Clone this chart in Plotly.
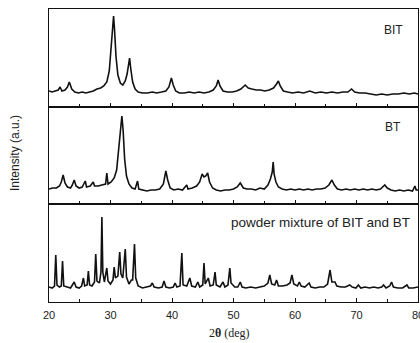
import plotly.graph_objects as go
from plotly.subplots import make_subplots

# ---- data (2theta in deg, intensity in arbitrary units) ----
bit_2theta = [20.0, 20.5, 21.0, 21.5, 21.8, 22.1, 22.6, 23.0, 23.3, 23.7, 24.2, 24.8, 25.4, 26.0, 26.6, 27.2,
              27.8, 28.4, 28.9, 29.4, 29.8, 30.1, 30.35, 30.5, 30.65, 30.9, 31.2, 31.6, 32.0, 32.4, 32.7, 32.95,
              33.1, 33.3, 33.6, 34.0, 34.5, 35.2, 36.0, 36.8, 37.5, 38.3, 39.0, 39.5, 39.9, 40.2, 40.6, 41.2,
              42.0, 42.8, 43.6, 44.4, 45.2, 46.0, 46.7, 47.2, 47.5, 47.8, 48.3, 49.0, 49.8, 50.5, 51.2, 51.9,
              52.4, 53.0, 53.7, 54.4, 55.1, 55.8, 56.5, 57.0, 57.3, 57.6, 58.1, 58.8, 59.6, 60.5, 61.4, 62.4,
              63.3, 64.2, 65.1, 66.0, 66.9, 67.8, 68.6, 69.2, 69.7, 70.5, 71.4, 72.3, 73.2, 74.1, 75.0, 75.9,
              76.8, 77.7, 78.6, 79.4, 80.0]
bit_int = [16, 15, 16, 17, 20, 16, 17, 20, 25, 18, 15, 14, 15, 14, 15, 16,
           18, 19, 21, 25, 36, 58, 80, 91, 78, 50, 32, 24, 22, 26, 33, 44,
           49, 38, 25, 18, 15, 14, 14, 15, 14, 15, 16, 20, 29, 22, 16, 14,
           14, 15, 14, 15, 14, 15, 17, 21, 27, 21, 16, 15, 15, 16, 18, 22,
           19, 18, 17, 17, 16, 17, 19, 23, 26, 21, 16, 15, 14, 15, 14, 16,
           14, 15, 14, 15, 14, 15, 15, 18, 15, 14, 14, 13, 12, 13, 12, 13,
           13, 14, 13, 14, 13]

bt_2theta = [20.0, 20.6, 21.2, 21.7, 22.0, 22.3, 22.6, 23.0, 23.5, 23.8, 24.1, 24.4, 24.9, 25.4, 25.9, 26.1,
             26.7, 27.2, 27.4, 28.0, 28.6, 29.2, 29.4, 29.6, 30.1, 30.6, 31.0, 31.3, 31.6, 31.85, 32.05, 32.3,
             32.6, 33.0, 33.5, 34.0, 34.4, 34.6, 35.2, 35.9, 36.6, 37.3, 38.0, 38.6, 39.0, 39.3, 39.7, 40.3,
             41.0, 41.7, 42.4, 42.6, 43.3, 44.0, 44.5, 44.9, 45.2, 45.5, 45.8, 46.1, 46.6, 47.2, 47.9, 48.6,
             49.3, 50.0, 50.6, 51.1, 51.6, 52.2, 52.9, 53.6, 54.3, 55.0, 55.6, 56.0, 56.3, 56.45, 56.6, 56.9,
             57.3, 57.9, 58.6, 59.3, 60.0, 60.7, 61.4, 62.1, 62.8, 63.5, 64.2, 64.9, 65.5, 66.0, 66.4, 66.9,
             67.6, 68.3, 69.0, 69.7, 70.4, 71.1, 71.8, 72.5, 73.2, 73.9, 74.6, 75.0, 75.6, 76.3, 77.0, 77.7,
             78.4, 79.1, 79.5, 79.7, 80.0]
bt_int = [15, 16, 16, 18, 22, 29, 21, 17, 16, 19, 24, 18, 16, 17, 23, 17,
          18, 22, 18, 18, 19, 20, 31, 20, 22, 26, 34, 50, 72, 88, 74, 45,
          28, 20, 16, 15, 23, 15, 14, 13, 14, 14, 15, 20, 33, 24, 16, 14,
          15, 14, 19, 15, 16, 18, 22, 30, 27, 28, 31, 22, 16, 14, 13, 14,
          14, 15, 17, 21, 16, 15, 15, 14, 16, 15, 19, 25, 32, 42, 30, 22,
          17, 15, 14, 15, 14, 15, 14, 15, 14, 15, 15, 16, 19, 24, 19, 15,
          14, 15, 14, 15, 14, 15, 14, 15, 14, 15, 19, 16, 14, 13, 14, 13,
          14, 13, 18, 14, 14]

mix_2theta = [20.0, 20.5, 20.9, 21.1, 21.3, 21.7, 22.0, 22.2, 22.4, 22.9, 23.5, 24.1, 24.4, 24.9, 25.3, 25.6,
              25.8, 26.2, 26.4, 26.6, 27.0, 27.4, 27.6, 27.8, 28.2, 28.45, 28.6, 28.75, 29.0, 29.4, 29.6, 30.0,
              30.4, 30.6, 30.8, 31.2, 31.5, 31.7, 32.0, 32.4, 32.6, 33.0, 33.4, 33.6, 33.9, 34.1, 34.5, 35.2,
              36.0, 36.5, 36.8, 37.1, 37.8, 38.4, 38.7, 39.0, 39.6, 40.2, 40.5, 40.8, 41.3, 41.6, 41.8, 42.4,
              42.9, 43.2, 43.8, 44.2, 44.5, 45.0, 45.2, 45.4, 45.9, 46.2, 46.7, 47.0, 47.2, 47.8, 48.3, 48.6,
              49.1, 49.4, 49.6, 50.2, 50.7, 51.1, 51.4, 52.0, 52.8, 53.6, 54.3, 55.0, 55.6, 55.9, 56.2, 56.7,
              57.0, 57.3, 58.0, 58.7, 59.2, 59.5, 59.8, 60.4, 60.7, 61.0, 61.6, 62.3, 62.6, 63.3, 64.0, 64.7,
              65.3, 65.7, 66.0, 66.5, 66.8, 67.5, 68.2, 68.9, 69.3, 69.9, 70.3, 70.7, 71.4, 72.1, 72.8, 73.5,
              74.1, 74.4, 74.8, 75.4, 75.7, 76.0, 76.7, 77.5, 78.2, 78.5, 79.2, 80.0]
mix_int = [15, 14, 16, 47, 17, 15, 16, 41, 16, 15, 14, 20, 15, 14, 16, 24,
           16, 17, 31, 17, 16, 20, 48, 21, 19, 30, 85, 30, 20, 34, 21, 18,
           22, 35, 24, 26, 50, 28, 24, 53, 25, 18, 22, 22, 58, 24, 16, 14,
           15, 16, 19, 15, 14, 15, 21, 15, 14, 15, 19, 15, 16, 49, 17, 16,
           24, 16, 15, 20, 15, 17, 39, 18, 24, 16, 17, 30, 17, 15, 20, 15,
           17, 34, 19, 15, 15, 20, 15, 14, 15, 14, 15, 16, 19, 27, 18, 17,
           22, 16, 16, 17, 19, 27, 18, 16, 20, 16, 15, 19, 15, 14, 15, 15,
           18, 32, 20, 20, 16, 15, 15, 17, 15, 14, 17, 14, 15, 14, 15, 14,
           15, 17, 14, 16, 20, 15, 14, 14, 17, 14, 14, 15]

panel_labels = ["BIT", "BT", "powder mixture of BIT and BT"]
x_ticks = [20, 30, 40, 50, 60, 70, 80]

fig = make_subplots(rows=3, cols=1, shared_xaxes=True, vertical_spacing=0)
line = dict(color="#111111", width=1.6)
fig.add_trace(go.Scatter(x=bit_2theta, y=bit_int, mode="lines", line=line, showlegend=False), row=1, col=1)
fig.add_trace(go.Scatter(x=bt_2theta, y=bt_int, mode="lines", line=line, showlegend=False), row=2, col=1)
fig.add_trace(go.Scatter(x=mix_2theta, y=mix_int, mode="lines", line=line, showlegend=False), row=3, col=1)

# plot area spans page x 49..418, y 9..302
PW, PH = 369.0, 293.0
domains = [[195.0 / PH, 1.0], [98.0 / PH, 195.0 / PH], [0.0, 98.0 / PH]]
yranges = [[0, 98], [0, 97], [0, 98]]
for i in range(3):
    fig.update_yaxes(domain=domains[i], range=yranges[i], showticklabels=False, ticks="",
                     showgrid=False, zeroline=False, showline=True, mirror=True, automargin=False,
                     linecolor="#111111", linewidth=1, row=i + 1, col=1)
    fig.update_xaxes(range=[20, 80], tickvals=x_ticks, ticks="inside", ticklen=4, tickwidth=1,
                     tickcolor="#111111", minor=dict(dtick=5, tick0=20, ticks="inside", ticklen=3,
                                                     tickcolor="#111111", showgrid=False),
                     showgrid=False, zeroline=False, showline=True, mirror=True, automargin=False,
                     linecolor="#111111", linewidth=1, row=i + 1, col=1)
fig.update_xaxes(showticklabels=False, row=1, col=1)
fig.update_xaxes(showticklabels=False, row=2, col=1)
fig.update_xaxes(showticklabels=True, tickfont=dict(family="Liberation Sans, Arial", size=11, color="#222"),
                 ticklabelstandoff=3, ticklabeloverflow="allow", row=3, col=1)


def px(x):
    return (x - 49) / PW


def py(y):
    return 1 - (y - 9) / PH


sans = "Liberation Sans, Arial"
fig.add_annotation(text=panel_labels[0], xref="paper", yref="paper", x=px(405), y=py(30),
                   xanchor="right", yanchor="middle", showarrow=False,
                   font=dict(family=sans, size=12, color="#222"))
fig.add_annotation(text=panel_labels[1], xref="paper", yref="paper", x=px(403), y=py(127),
                   xanchor="right", yanchor="middle", showarrow=False,
                   font=dict(family=sans, size=12, color="#222"))
fig.add_annotation(text=panel_labels[2], xref="paper", yref="paper", x=px(412), y=py(222),
                   xanchor="right", yanchor="middle", showarrow=False,
                   font=dict(family=sans, size=13.5, color="#222"))
fig.add_annotation(text="Intensity (a.u.)", xref="paper", yref="paper", x=px(15), y=py(153),
                   xanchor="center", yanchor="middle", textangle=-90, showarrow=False,
                   font=dict(family=sans, size=12, color="#222"))
fig.add_annotation(text="2<b>θ</b> (deg)", xref="paper", yref="paper", x=px(229), y=py(333),
                   xanchor="center", yanchor="middle", showarrow=False,
                   font=dict(family="Liberation Serif, Times New Roman", size=12, color="#222"))

fig.update_layout(width=420, height=343, margin=dict(l=49, r=2, t=9, b=41),
                  plot_bgcolor="white", paper_bgcolor="white")
fig.write_html("out.html", config={"displayModeBar": False},
               post_script="document.body.style.margin='0';document.body.style.overflow='hidden';"
                           "document.documentElement.style.overflow='hidden';")
